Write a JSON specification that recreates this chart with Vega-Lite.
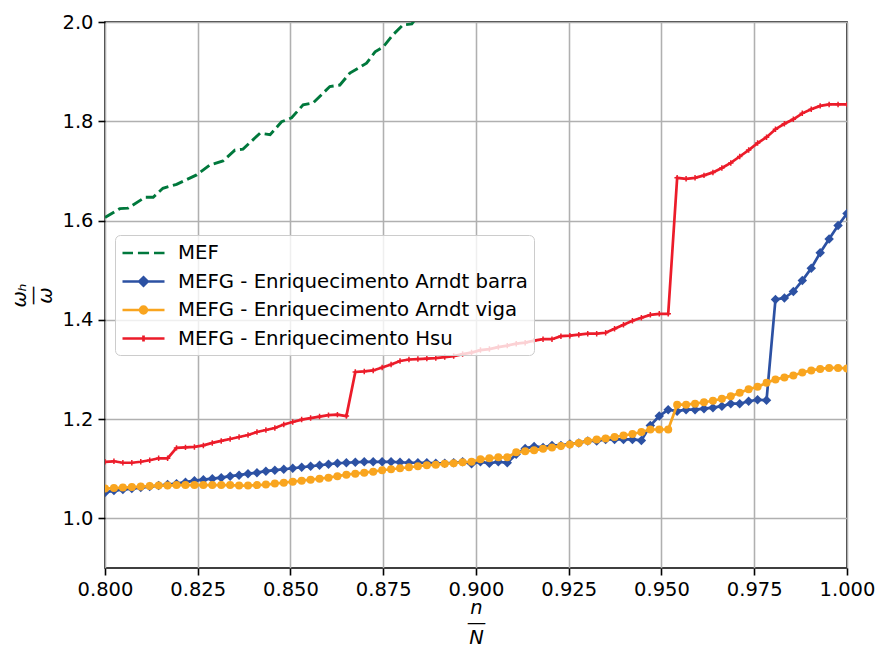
{
  "$schema": "https://vega.github.io/schema/vega-lite/v6.json",
  "width": 742,
  "height": 546,
  "autosize": "none",
  "padding": {"left": 105, "top": 22, "right": 29, "bottom": 77},
  "background": "white",
  "config": {
    "font": "DejaVu Sans",
    "view": {"stroke": "#000000", "strokeWidth": 1.6},
    "axis": {
      "labelFont": "DejaVu Sans", "labelFontSize": 19.5, "labelColor": "#000000",
      "labelFlush": false, "labelOverlap": false,
      "tickColor": "#000000", "tickSize": 7, "tickWidth": 1.6,
      "domain": false,
      "gridColor": "#b0b0b0", "gridWidth": 1.55, "gridOpacity": 1,
      "labelPadding": 5,
      "titleFont": "DejaVu Sans", "titleFontSize": 19.5, "titleFontWeight": "normal",
      "titleFontStyle": "italic", "titleColor": "#000000"
    }
  },
  "datasets": {
    "fem": [
      {"x": 0.8000, "y": 1.606}, {"x": 0.8040, "y": 1.624}, {"x": 0.8062, "y": 1.625},
      {"x": 0.8108, "y": 1.647}, {"x": 0.8130, "y": 1.647}, {"x": 0.8156, "y": 1.665},
      {"x": 0.8193, "y": 1.673}, {"x": 0.8247, "y": 1.692}, {"x": 0.8283, "y": 1.712},
      {"x": 0.8318, "y": 1.720}, {"x": 0.8350, "y": 1.742}, {"x": 0.8372, "y": 1.744},
      {"x": 0.8418, "y": 1.776}, {"x": 0.8445, "y": 1.773}, {"x": 0.8476, "y": 1.799},
      {"x": 0.8503, "y": 1.807}, {"x": 0.8534, "y": 1.833}, {"x": 0.8561, "y": 1.837},
      {"x": 0.8606, "y": 1.870}, {"x": 0.8633, "y": 1.873}, {"x": 0.8660, "y": 1.897},
      {"x": 0.8705, "y": 1.917}, {"x": 0.8728, "y": 1.940}, {"x": 0.8750, "y": 1.950},
      {"x": 0.8776, "y": 1.974}, {"x": 0.8803, "y": 1.994}, {"x": 0.8827, "y": 1.996},
      {"x": 0.8850, "y": 2.020}, {"x": 0.8875, "y": 2.030}
    ],
    "fg": [
      {"x": 0.80000, "b": 1.052, "v": 1.060, "h": 1.114},
      {"x": 0.80241, "b": 1.056, "v": 1.061, "h": 1.115},
      {"x": 0.80482, "b": 1.058, "v": 1.062, "h": 1.112},
      {"x": 0.80723, "b": 1.060, "v": 1.063, "h": 1.112},
      {"x": 0.80964, "b": 1.062, "v": 1.064, "h": 1.114},
      {"x": 0.81205, "b": 1.064, "v": 1.065, "h": 1.117},
      {"x": 0.81446, "b": 1.066, "v": 1.066, "h": 1.121},
      {"x": 0.81687, "b": 1.068, "v": 1.066, "h": 1.121},
      {"x": 0.81928, "b": 1.070, "v": 1.067, "h": 1.142},
      {"x": 0.82169, "b": 1.073, "v": 1.067, "h": 1.143},
      {"x": 0.82410, "b": 1.076, "v": 1.067, "h": 1.144},
      {"x": 0.82651, "b": 1.078, "v": 1.067, "h": 1.147},
      {"x": 0.82892, "b": 1.080, "v": 1.067, "h": 1.152},
      {"x": 0.83133, "b": 1.082, "v": 1.067, "h": 1.156},
      {"x": 0.83373, "b": 1.085, "v": 1.067, "h": 1.160},
      {"x": 0.83614, "b": 1.087, "v": 1.066, "h": 1.164},
      {"x": 0.83855, "b": 1.090, "v": 1.066, "h": 1.168},
      {"x": 0.84096, "b": 1.092, "v": 1.067, "h": 1.174},
      {"x": 0.84337, "b": 1.095, "v": 1.068, "h": 1.178},
      {"x": 0.84578, "b": 1.097, "v": 1.070, "h": 1.182},
      {"x": 0.84819, "b": 1.099, "v": 1.072, "h": 1.189},
      {"x": 0.85060, "b": 1.101, "v": 1.074, "h": 1.194},
      {"x": 0.85301, "b": 1.103, "v": 1.076, "h": 1.199},
      {"x": 0.85542, "b": 1.105, "v": 1.078, "h": 1.202},
      {"x": 0.85783, "b": 1.107, "v": 1.080, "h": 1.205},
      {"x": 0.86024, "b": 1.109, "v": 1.082, "h": 1.208},
      {"x": 0.86265, "b": 1.111, "v": 1.085, "h": 1.209},
      {"x": 0.86506, "b": 1.112, "v": 1.088, "h": 1.206},
      {"x": 0.86747, "b": 1.113, "v": 1.090, "h": 1.295},
      {"x": 0.86988, "b": 1.114, "v": 1.092, "h": 1.296},
      {"x": 0.87229, "b": 1.114, "v": 1.094, "h": 1.298},
      {"x": 0.87470, "b": 1.114, "v": 1.097, "h": 1.304},
      {"x": 0.87711, "b": 1.114, "v": 1.099, "h": 1.310},
      {"x": 0.87952, "b": 1.113, "v": 1.101, "h": 1.317},
      {"x": 0.88193, "b": 1.112, "v": 1.103, "h": 1.320},
      {"x": 0.88434, "b": 1.112, "v": 1.105, "h": 1.321},
      {"x": 0.88675, "b": 1.112, "v": 1.107, "h": 1.322},
      {"x": 0.88916, "b": 1.111, "v": 1.108, "h": 1.323},
      {"x": 0.89157, "b": 1.111, "v": 1.110, "h": 1.325},
      {"x": 0.89398, "b": 1.112, "v": 1.111, "h": 1.327},
      {"x": 0.89639, "b": 1.114, "v": 1.113, "h": 1.331},
      {"x": 0.89880, "b": 1.110, "v": 1.114, "h": 1.334},
      {"x": 0.90120, "b": 1.114, "v": 1.119, "h": 1.339},
      {"x": 0.90361, "b": 1.111, "v": 1.121, "h": 1.341},
      {"x": 0.90602, "b": 1.114, "v": 1.123, "h": 1.345},
      {"x": 0.90843, "b": 1.112, "v": 1.123, "h": 1.348},
      {"x": 0.91084, "b": 1.129, "v": 1.133, "h": 1.352},
      {"x": 0.91325, "b": 1.141, "v": 1.135, "h": 1.354},
      {"x": 0.91566, "b": 1.145, "v": 1.137, "h": 1.358},
      {"x": 0.91807, "b": 1.143, "v": 1.140, "h": 1.361},
      {"x": 0.92048, "b": 1.147, "v": 1.143, "h": 1.361},
      {"x": 0.92289, "b": 1.147, "v": 1.146, "h": 1.367},
      {"x": 0.92530, "b": 1.150, "v": 1.149, "h": 1.368},
      {"x": 0.92771, "b": 1.152, "v": 1.152, "h": 1.370},
      {"x": 0.93012, "b": 1.156, "v": 1.156, "h": 1.372},
      {"x": 0.93253, "b": 1.156, "v": 1.159, "h": 1.372},
      {"x": 0.93494, "b": 1.159, "v": 1.161, "h": 1.374},
      {"x": 0.93735, "b": 1.159, "v": 1.164, "h": 1.382},
      {"x": 0.93976, "b": 1.159, "v": 1.167, "h": 1.390},
      {"x": 0.94217, "b": 1.159, "v": 1.170, "h": 1.398},
      {"x": 0.94458, "b": 1.157, "v": 1.174, "h": 1.404},
      {"x": 0.94699, "b": 1.187, "v": 1.179, "h": 1.410},
      {"x": 0.94940, "b": 1.206, "v": 1.179, "h": 1.412},
      {"x": 0.95181, "b": 1.219, "v": 1.179, "h": 1.412},
      {"x": 0.95422, "b": 1.216, "v": 1.229, "h": 1.686},
      {"x": 0.95663, "b": 1.219, "v": 1.229, "h": 1.684},
      {"x": 0.95904, "b": 1.219, "v": 1.231, "h": 1.686},
      {"x": 0.96145, "b": 1.221, "v": 1.234, "h": 1.691},
      {"x": 0.96386, "b": 1.223, "v": 1.237, "h": 1.697},
      {"x": 0.96627, "b": 1.226, "v": 1.241, "h": 1.706},
      {"x": 0.96867, "b": 1.231, "v": 1.246, "h": 1.716},
      {"x": 0.97108, "b": 1.231, "v": 1.253, "h": 1.729},
      {"x": 0.97349, "b": 1.236, "v": 1.260, "h": 1.742},
      {"x": 0.97590, "b": 1.239, "v": 1.265, "h": 1.756},
      {"x": 0.97831, "b": 1.238, "v": 1.273, "h": 1.768},
      {"x": 0.98072, "b": 1.441, "v": 1.280, "h": 1.784},
      {"x": 0.98313, "b": 1.444, "v": 1.284, "h": 1.795},
      {"x": 0.98554, "b": 1.457, "v": 1.288, "h": 1.804},
      {"x": 0.98795, "b": 1.479, "v": 1.294, "h": 1.816},
      {"x": 0.99036, "b": 1.504, "v": 1.298, "h": 1.824},
      {"x": 0.99277, "b": 1.535, "v": 1.301, "h": 1.831},
      {"x": 0.99518, "b": 1.563, "v": 1.303, "h": 1.834},
      {"x": 0.99759, "b": 1.590, "v": 1.303, "h": 1.834},
      {"x": 1.00000, "b": 1.614, "v": 1.302, "h": 1.834}
    ],
    "leg": [
      {"s": "MEF"},
      {"s": "MEFG - Enriquecimento Arndt barra"},
      {"s": "MEFG - Enriquecimento Arndt viga"},
      {"s": "MEFG - Enriquecimento Hsu"}
    ]
  },
  "layer": [
    {
      "data": {"name": "fem"},
      "mark": {"type": "line", "color": "#00783c", "strokeWidth": 2.9, "strokeDash": [10.8, 4.7], "clip": true},
      "encoding": {
        "x": {
          "field": "x", "type": "quantitative",
          "scale": {"domain": [0.8, 1.0], "nice": false, "zero": false},
          "axis": {"values": [0.8, 0.825, 0.85, 0.875, 0.9, 0.925, 0.95, 0.975, 1.0], "format": ".3f",
                   "title": ["n", "—", "N"], "titleLineHeight": 15, "titleBaseline": "middle", "titleY": 39}
        },
        "y": {
          "field": "y", "type": "quantitative",
          "scale": {"domain": [0.9, 2.0], "nice": false, "zero": false},
          "axis": {"values": [1.0, 1.2, 1.4, 1.6, 1.8, 2.0], "format": ".1f",
                   "title": ["ωₕ", "—", "ω"], "titleLineHeight": 13, "titleBaseline": "middle",
                   "titleX": -86, "titleY": 273, "titleAngle": 270, "titleAlign": "center"}
        }
      }
    },
    {
      "data": {"name": "fg"},
      "mark": {"type": "line", "color": "#2c51a3", "strokeWidth": 2.7, "clip": true,
               "point": {"shape": "diamond", "size": 90, "filled": true, "color": "#2c51a3"}},
      "encoding": {
        "x": {"field": "x", "type": "quantitative"},
        "y": {"field": "b", "type": "quantitative"}
      }
    },
    {
      "data": {"name": "fg"},
      "mark": {"type": "line", "color": "#f9a51f", "strokeWidth": 2.7, "clip": true,
               "point": {"shape": "circle", "size": 64, "filled": true, "color": "#f9a51f"}},
      "encoding": {
        "x": {"field": "x", "type": "quantitative"},
        "y": {"field": "v", "type": "quantitative"}
      }
    },
    {
      "data": {"name": "fg"},
      "mark": {"type": "line", "color": "#ec1c2a", "strokeWidth": 2.7, "clip": true,
               "point": {"shape": "M-1,0H1M0,-1V1", "size": 30, "filled": false, "strokeWidth": 1.5, "color": "#ec1c2a"}},
      "encoding": {
        "x": {"field": "x", "type": "quantitative"},
        "y": {"field": "h", "type": "quantitative"}
      }
    },
    {
      "data": {"name": "leg"},
      "mark": {"type": "point", "opacity": 0, "filled": true},
      "encoding": {
        "x": {"datum": 0.9},
        "y": {"datum": 1.5},
        "color": {
          "field": "s", "type": "nominal",
          "scale": {
            "domain": ["MEF", "MEFG - Enriquecimento Arndt barra", "MEFG - Enriquecimento Arndt viga", "MEFG - Enriquecimento Hsu"],
            "range": ["#00783c", "#2c51a3", "#f9a51f", "#ec1c2a"]
          },
          "legend": {
            "title": null, "orient": "none", "legendX": 10, "legendY": 213,
            "symbolSize": 441, "labelFontSize": 19.7, "labelFont": "DejaVu Sans", "labelColor": "#000000",
            "labelLimit": 0, "labelOffset": 33, "padding": 6, "rowPadding": 6.5,
            "fillColor": "rgba(255,255,255,0.8)", "strokeColor": "#cccccc", "cornerRadius": 5,
            "symbolOpacity": 1,
            "encode": {
              "symbols": {
                "update": {
                  "fill": {"scale": "color", "field": "value"},
                  "stroke": {"scale": "color", "field": "value"},
                  "strokeWidth": {"value": 2.7},
                  "opacity": {"value": 1},
                  "fillOpacity": {"value": 1},
                  "strokeOpacity": {"value": 1}
                }
              }
            }
          }
        },
        "shape": {
          "field": "s", "type": "nominal",
          "scale": {
            "domain": ["MEF", "MEFG - Enriquecimento Arndt barra", "MEFG - Enriquecimento Arndt viga", "MEFG - Enriquecimento Hsu"],
            "range": [
              "M-1,0H0M0.47,0H1.53M2,0H3",
              "M-1,0H3M0.6,0L1,-0.4L1.4,0L1,0.4Z",
              "M-1,0H3M0.68,0A0.32,0.32,0,1,0,1.32,0A0.32,0.32,0,1,0,0.68,0Z",
              "M-1,0H3M1,-0.28V0.28"
            ]
          },
          "legend": {
            "title": null, "orient": "none", "legendX": 10, "legendY": 213,
            "symbolSize": 441, "labelFontSize": 19.7, "labelFont": "DejaVu Sans", "labelColor": "#000000",
            "labelLimit": 0, "labelOffset": 33, "padding": 6, "rowPadding": 6.5,
            "fillColor": "rgba(255,255,255,0.8)", "strokeColor": "#cccccc", "cornerRadius": 5,
            "symbolOpacity": 1
          }
        }
      }
    }
  ]
}
